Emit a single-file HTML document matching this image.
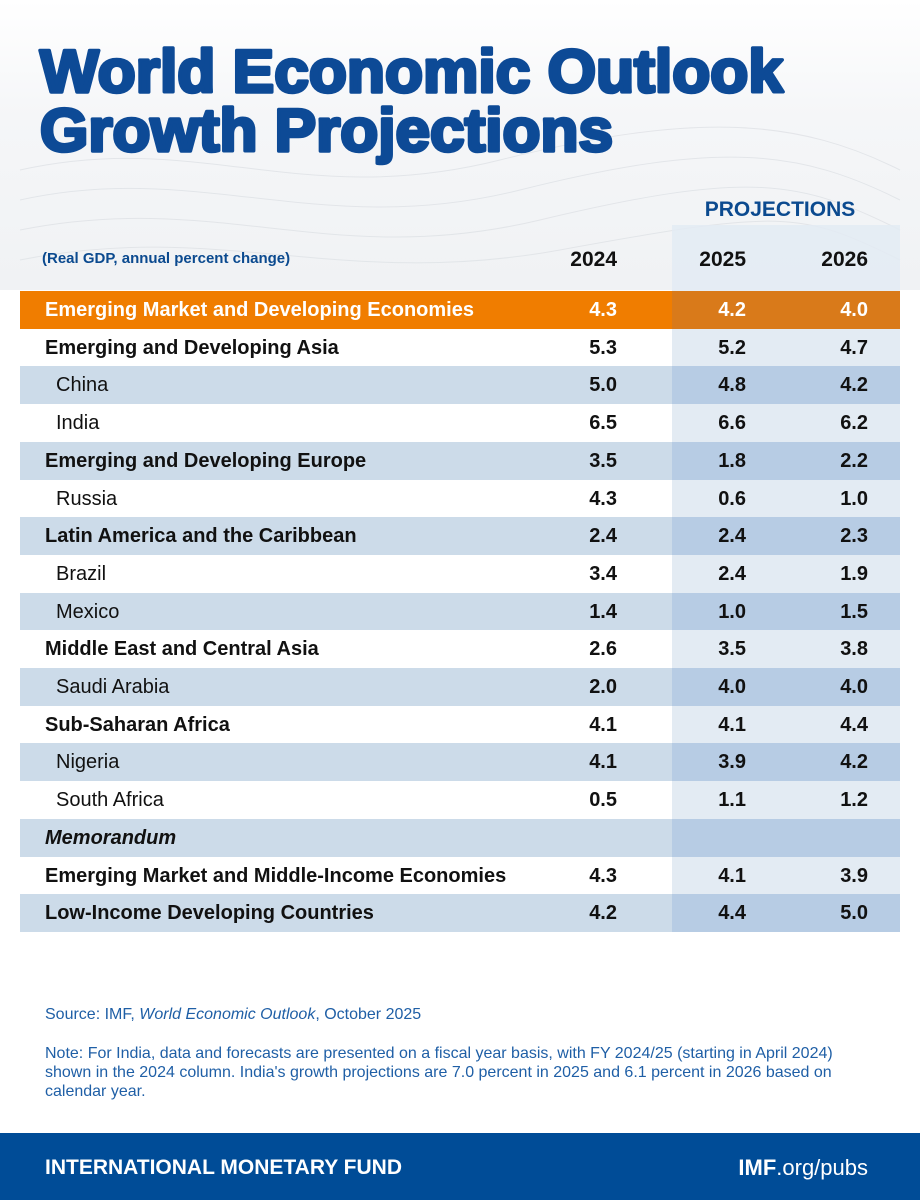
<!DOCTYPE html>
<html><head><meta charset="utf-8"><style>
body{margin:0;width:920px;height:1200px;position:relative;background:#fff;font-family:"Liberation Sans",sans-serif;overflow:hidden}
.bg{position:absolute;left:0;top:0;width:920px;height:290px;background:linear-gradient(180deg,#fff 0%,#f5f6f8 40%,#f0f2f4 100%)}
.projcol{position:absolute;left:672px;top:225px;width:228px;height:66px;background:#e3ebf3;opacity:.85}
.row{position:absolute;left:20px;width:880px;height:38px}
.cell{position:absolute;top:0;height:38px;line-height:38px;font-size:20px;color:#111}
.foot{position:absolute;left:0;top:1133px;width:920px;height:67px;background:#004c97}
</style></head><body>
<div class="bg"></div>
<svg style="position:absolute;left:0;top:0" width="920" height="290">
<g stroke="#dfe2e6" stroke-width="1" fill="none" opacity=".8">
<path d="M20 170 C200 130 300 210 500 160 S800 120 900 170"/>
<path d="M20 200 C200 160 320 240 520 190 S800 150 900 200"/>
<path d="M20 230 C220 190 330 270 540 220 S800 180 900 230"/>
<path d="M20 260 C220 220 340 290 560 250 S800 210 900 260"/>
</g>
<text x="40" y="92" font-size="60" font-weight="bold" fill="#0d4a96" stroke="#0d4a96" stroke-width="3.5" stroke-linejoin="round" textLength="743" lengthAdjust="spacingAndGlyphs">World Economic Outlook</text>
<text x="40" y="151" font-size="60" font-weight="bold" fill="#0d4a96" stroke="#0d4a96" stroke-width="3.5" stroke-linejoin="round" textLength="573" lengthAdjust="spacingAndGlyphs">Growth Projections</text>
<text x="780" y="216" font-size="21" font-weight="bold" fill="#0b4a8f" text-anchor="middle">PROJECTIONS</text>
</svg>
<div class="projcol"></div>
<div style="position:absolute;left:42px;top:250px;font-size:15px;font-weight:bold;color:#0b4a8f">(Real GDP, annual percent change)</div>
<div style="position:absolute;left:520px;top:248px;width:97px;text-align:right;font-size:21px;font-weight:bold;color:#111">2024</div>
<div style="position:absolute;left:650px;top:248px;width:96px;text-align:right;font-size:21px;font-weight:bold;color:#111">2025</div>
<div style="position:absolute;left:770px;top:248px;width:98px;text-align:right;font-size:21px;font-weight:bold;color:#111">2026</div>
<div id="table"></div>
<div style="position:absolute;left:45px;top:1006px;font-size:16px;color:#1f5fa6">Source: IMF, <i>World Economic Outlook</i>, October 2025</div>
<div style="position:absolute;left:45px;top:1044px;width:830px;font-size:16px;line-height:19px;color:#1f5fa6">Note: For India, data and forecasts are presented on a fiscal year basis, with FY 2024/25 (starting in April 2024) shown in the 2024 column. India's growth projections are 7.0 percent in 2025 and 6.1 percent in 2026 based on calendar year.</div>
<div class="foot">
<div style="position:absolute;left:45px;top:23px;font-size:21px;font-weight:bold;color:#fff">INTERNATIONAL MONETARY FUND</div>
<div style="position:absolute;right:52px;top:22px;font-size:22px;color:#fff"><b>IMF</b>.org/pubs</div>
</div>
<script>
const labels=["Emerging Market and Developing Economies","Emerging and Developing Asia","China","India","Emerging and Developing Europe","Russia","Latin America and the Caribbean","Brazil","Mexico","Middle East and Central Asia","Saudi Arabia","Sub-Saharan Africa","Nigeria","South Africa","Memorandum","Emerging Market and Middle-Income Economies","Low-Income Developing Countries"];
const levels=[0,1,2,2,1,2,1,2,2,1,2,1,2,2,3,1,1];
const v2024=["4.3","5.3","5.0","6.5","3.5","4.3","2.4","3.4","1.4","2.6","2.0","4.1","4.1","0.5","","4.3","4.2"];
const v2025=["4.2","5.2","4.8","6.6","1.8","0.6","2.4","2.4","1.0","3.5","4.0","4.1","3.9","1.1","","4.1","4.4"];
const v2026=["4.0","4.7","4.2","6.2","2.2","1.0","2.3","1.9","1.5","3.8","4.0","4.4","4.2","1.2","","3.9","5.0"];
const t=document.getElementById('table');
const top0=291,rh=37.7;
labels.forEach((lab,i)=>{
  const r=document.createElement('div');
  
  
  r.className='row';r.style.top=(top0+i*rh)+'px';
  const shaded=i%2==0;
  const lv=levels[i];
  let bg=lv==0?'#f07d00':(shaded?'#ccdbe9':'#fff');
  let pbg=lv==0?'#d97a1a':(shaded?'#b7cce4':'#e3ebf3');
  r.style.background=bg;
  const p=document.createElement('div');
  
  
  p.style.cssText='position:absolute;left:652px;top:0;width:228px;height:38px;background:'+pbg;
  r.appendChild(p);
  const col=lv==0?'#fff':'#111';
  const l=document.createElement('div');
  
  
  l.className='cell';l.textContent=lab;
  l.style.left=(lv==2?36:25)+'px';l.style.color=col;
  l.style.fontWeight=lv==2?'normal':'bold';
  if(lv==3)l.style.fontStyle='italic';
  r.appendChild(l);
  [[v2024,597],[v2025,726],[v2026,848]].forEach(([arr,x])=>{
    const c=document.createElement('div');
    
    
    c.className='cell';c.textContent=arr[i];
    c.style.left=(x-60)+'px';c.style.width='60px';c.style.textAlign='right';
    c.style.color=col;c.style.fontWeight='bold';
    r.appendChild(c);
  });
  t.appendChild(r);
});
</script>
</body></html>
